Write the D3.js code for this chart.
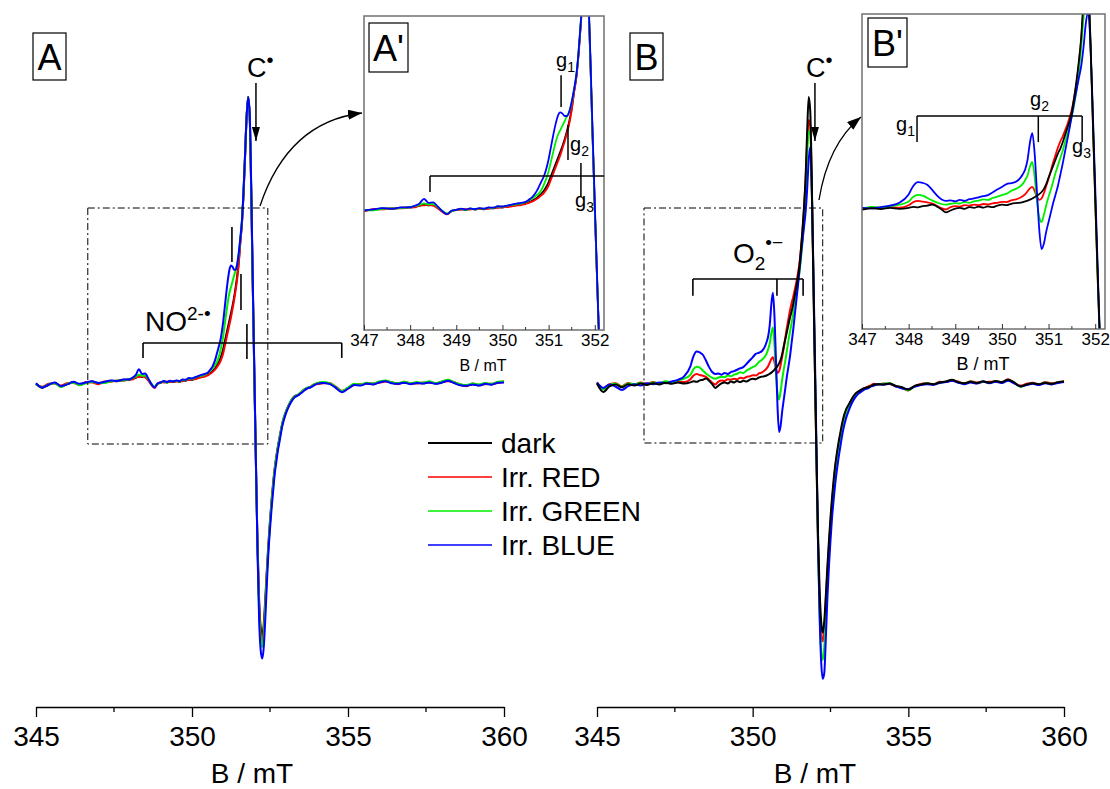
<!DOCTYPE html>
<html><head><meta charset="utf-8">
<script src="https://cdn.jsdelivr.net/npm/d3@7"></script>
<style>
body{margin:0;background:#fff}
svg{display:block;font-family:"Liberation Sans",Arial,Helvetica,sans-serif}
</style></head><body>
<svg id="chart" width="1110" height="789"></svg>
<script>
// ---------- sampling grid (magnetic field, mT) ----------
const fieldB = [
 345.0,345.2,345.4,345.6,345.8,346.0,346.2,346.4,346.6,346.8,347.0,347.2,347.4,347.6,347.8,
 348.0,348.1,348.2,348.3,348.4,348.5,348.6,348.7,348.8,348.9,349.0,349.1,349.2,349.3,349.4,349.5,349.6,349.7,349.8,349.9,350.0,350.1,350.2,350.3,350.4,
 350.45,350.5,350.55,350.6,350.65,350.7,350.75,350.8,350.85,350.9,350.95,351.0,351.05,351.1,351.15,351.2,351.25,351.3,351.35,351.4,351.45,351.5,351.55,351.6,351.65,351.7,351.75,351.8,351.85,351.9,351.95,352.0,352.05,352.1,352.15,352.2,352.25,352.3,352.35,352.4,352.45,352.5,352.55,352.6,352.65,352.7,352.75,352.8,
 352.9,353.0,353.1,353.2,353.3,353.4,353.5,353.6,353.7,353.8,353.9,354.0,
 354.2,354.4,354.6,354.8,355.0,355.2,355.4,355.6,355.8,356.0,356.2,356.4,356.6,356.8,357.0,357.2,357.4,357.6,357.8,358.0,358.2,358.4,358.6,358.8,359.0,359.2,359.4,359.6,359.8,360.0
];

// ---------- panel A spectra (a.u.) ----------
const aDark = [
 0.5,-1.0,0.0,0.8,-0.5,0.3,1.0,0.2,0.8,1.2,0.6,1.0,1.5,1.3,1.8,
 1.8,2.2,2.5,3.2,2.8, 3.0,1.8,0.2,-0.8,0.5, 0.8,1.2,0.9,1.3,1.0, 1.4,1.1,1.6,1.5,2.0, 1.8,2.3,2.6,2.9,3.1,
 3.4,3.6,4.0,4.3,4.8, 5.3,6.0,6.8,7.8,9.0, 10.5,12.5,15.0,17.5,20.0, 22.5,25.0,27.5,30.5,34.0,
 38.0,43.0,50.0,56.0,66.0, 79.0,93.0,100,93.0,66.0, 33.0,2.0,-28,-55,-74, -84,-87,-83,-74,-64,
 -55,-47,-40,-34,-29, -25,-21.5,-18.5,
 -13,-9.5,-7.0,-5.0,-3.8,-3.5,-2.5,-1.5,-1.0,-0.8,0.0,0.5,
 0.8,0.5,-0.8,-2.2,-1.0,0.2,0.0,0.6,0.3,1.0, 1.4,0.8,0.5,0.9,0.4,0.8,0.6,1.0,0.5,0.9, 1.6,0.8,0.0,-0.2,0.3,-0.1,0.5,0.2,0.9,1.0
];
const aRed = [
 0.2,-0.6,0.4,0.5,-0.2,0.6,0.7,0.0,1.0,0.9,0.3,1.2,1.1,1.6,1.5,
 2.0,1.9,2.7,2.8,3.0, 2.6,1.5,0.0,-1.0,0.3, 1.0,0.9,1.2,1.0,1.3, 1.2,1.4,1.3,1.8,1.7, 2.1,2.0,2.4,2.7,2.9,
 3.1,3.3,3.7,4.0,4.4, 4.9,5.5,6.2,7.0,8.0, 9.3,11.0,13.5,16.0,18.5, 21.0,23.5,26.5,29.5,33.0,
 37.0,42.5,49.5,56.0,66.0, 79.0,93.0,100,93.0,66.0, 33.0,2.0,-28,-56,-76, -86,-89,-85,-76,-65,
 -56,-48,-41,-35,-29.5, -25.5,-22,-19,
 -13.5,-9.8,-7.2,-5.2,-4.0,-3.3,-2.6,-1.8,-1.2,-0.6,0.2,0.3,
 0.6,0.7,-0.5,-2.0,-1.2,0.0,0.3,0.4,0.6,0.8, 1.2,1.0,0.3,1.1,0.6,0.5,0.9,0.8,0.7,1.1, 1.3,1.0,0.2,-0.4,0.5,0.1,0.3,0.4,0.7,1.2
];
const aGreen = [
 0.3,-0.8,0.2,0.6,-0.7,0.4,0.8,-0.1,0.6,1.0,0.8,0.7,1.3,1.5,1.6,
 2.1,2.4,3.0,3.6,3.2, 3.3,2.0,0.4,-0.6,0.4, 0.9,1.3,0.8,1.5,1.2, 1.5,1.3,1.8,1.7,2.3, 2.2,2.6,3.0,3.2,3.5,
 3.8,4.1,4.6,5.1,5.7, 6.4,7.2,8.0,9.5,11.5, 14.0,17.0,21.0,25.0,29.0, 32.0,34.0,36.0,38.0,40.0,
 42.0,45.5,51.0,57.0,67.0, 80.0,93.0,100,93.0,66.0, 33.0,2.0,-28,-57,-78, -88,-91,-87,-77,-66,
 -56,-48,-41,-35,-29.5, -25.5,-22,-19,
 -13.2,-9.6,-7.2,-5.0,-3.9,-3.4,-2.4,-1.6,-0.9,-0.7,0.1,0.6,
 1.0,0.6,-0.6,-2.1,-0.9,0.4,0.2,0.8,0.5,1.2, 1.6,1.0,0.7,1.1,0.6,1.0,0.8,1.3,0.7,1.2, 1.8,1.0,0.3,0.0,0.5,0.2,0.7,0.4,1.1,1.3
];
const aBlue = [
 0.6,-0.9,0.1,0.9,-0.4,0.2,1.1,0.4,0.9,1.3,0.7,1.1,1.6,1.4,1.9,
 2.0,2.6,3.5,5.5,3.8, 4.0,2.2,0.3,-0.9,0.6, 0.9,1.4,1.0,1.5,1.2, 1.6,1.4,1.9,1.8,2.4, 2.3,2.7,3.1,3.5,3.8,
 4.0,4.2,4.8,5.5,6.3, 7.5,9.0,11.0,13.0,15.0, 18.0,22.0,27.0,32.0,36.5, 40.0,41.5,41.0,40.0,40.0,
 42.0,46.0,51.0,57.0,67.0, 80.0,93.0,100,94.0,68.0, 35.0,4.0,-27,-58,-81, -92,-95,-91,-81,-69,
 -58,-50,-43,-37,-31, -27,-23,-20,
 -14,-10.2,-7.5,-5.5,-4.2,-3.6,-2.8,-1.9,-1.2,-0.8,-0.2,0.4,
 0.7,0.4,-0.9,-2.5,-1.3,0.0,-0.2,0.5,0.2,0.9, 1.3,0.6,0.4,0.8,0.3,0.7,0.5,0.9,0.4,0.8, 1.5,0.7,-0.1,-0.3,0.2,-0.2,0.4,0.1,0.8,0.9
];

// ---------- panel B spectra (a.u.) ----------
const bDark = [
 0.5,-2.4,-0.5,0.2,-0.8,0.3,-0.2,0.5,0.0,0.6,0.2,0.8,0.4,0.9,0.5,
 0.9,1.3,1.1,1.6,1.8, 2.3,1.5,0.3,-1.0,-0.2, 0.6,0.9,0.5,1.2,0.9, 1.4,1.0,1.5,1.2,1.8, 2.2,2.0,2.6,2.9,3.1,
 3.3,3.6,3.9,4.3,4.8, 5.3,5.9,6.6,7.5,8.8, 10.8,13.5,16.0,18.5,21.0, 23.5,25.5,28.0,31.0,34.0,
 37.0,41.0,47.0,54.0,62.0, 72.0,88.0,100,95.0,70.0, 37.0,5.0,-25,-52,-71, -82,-86,-82,-73,-63,
 -54,-46,-39,-33,-28, -24,-20.5,-17.5,
 -12,-8.5,-6.5,-4.5,-3.0,-2.2,-1.5,-1.0,-0.8,-0.4,0.2,0.3,
 0.2,0.5,-0.3,-0.8,-1.6,-0.3,0.2,0.5,0.3,0.9, 1.2,1.8,1.0,0.6,1.1,0.7,1.3,0.8,1.4,1.0, 1.8,0.9,-0.5,0.2,0.6,0.3,0.8,0.4,1.0,1.2
];
const bRed = [
 0.9,-1.2,0.3,0.6,-0.4,0.7,0.1,0.9,0.4,1.0,0.5,1.1,0.7,1.2,1.0,
 2.0,3.3,3.8,3.5,3.2, 2.8,1.8,0.8,0.2,1.2, 1.6,1.4,2.0,1.8,2.2, 2.0,2.5,2.3,2.8,3.0, 3.4,3.3,4.0,4.4,5.2,
 5.8,6.6,7.8,9.0,9.6, 8.0,5.5,4.2,4.8,7.0, 10.0,13.0,16.5,20.0,23.0, 26.0,28.5,30.5,33.0,35.5,
 38.5,42.0,47.0,53.0,61.0, 71.0,84.0,92.0,90.0,68.0, 36.0,4.0,-27,-55,-75, -86,-89,-85,-75,-65,
 -56,-47.5,-40.5,-34.5,-29, -25,-21.5,-18.5,
 -12.8,-9.2,-6.8,-4.9,-3.4,-2.4,-1.8,-1.2,-0.6,-0.1,0.4,0.1,
 0.5,0.3,-0.5,-1.0,-1.9,-0.4,0.4,0.7,0.1,1.1, 1.0,1.6,1.2,0.4,1.3,0.9,1.0,1.1,1.2,0.8, 2.0,0.7,-0.2,0.4,0.8,0.1,1.0,0.6,0.8,1.3
];
const bGreen = [
 0.7,-1.5,0.0,0.4,-0.6,0.5,0.3,0.7,0.2,0.9,0.6,1.3,1.0,1.6,2.2,
 3.5,5.5,6.3,6.0,5.0, 4.0,3.2,2.5,2.2,2.6, 2.9,2.7,3.3,3.0,3.6, 3.9,4.4,4.2,5.0,5.6, 6.2,6.8,8.0,8.8,10.0,
 11.0,12.5,14.5,18.0,20.0, 14.0,4.0,-3.0,-5.0,-2.0, 2.0,5.5,8.5,12.0,15.5, 18.5,21.5,24.5,28.0,31.5,
 35.0,39.0,44.0,50.0,58.0, 68.0,80.0,88.0,88.0,68.0, 38.0,6.0,-26,-56,-79, -92,-95.5,-91,-80,-68,
 -58,-49,-42,-35.5,-30, -25.5,-22,-19,
 -13.2,-9.4,-7.0,-5.0,-3.6,-2.6,-1.9,-1.3,-1.0,-0.5,0.0,0.2,
 0.4,0.6,-0.4,-0.9,-1.8,-0.5,0.1,0.6,0.2,0.8, 1.1,1.7,0.9,0.5,1.2,0.6,1.1,0.7,1.3,0.9, 1.7,0.8,-0.6,0.1,0.5,0.2,0.9,0.3,0.9,1.1
];
const bBlue = [
 0.8,-1.0,0.2,-0.6,-1.7,-0.4,0.3,-0.2,0.6,0.3,0.9,0.6,1.2,1.8,3.0,
 6.5,10.0,11.6,11.3,10.5, 8.5,6.2,4.5,3.8,4.0, 3.6,4.2,3.8,4.5,4.8, 5.3,5.8,6.2,7.3,8.5, 9.6,10.8,11.2,11.8,13.5,
 15.0,17.0,21.0,28.0,32.0, 24.0,8.0,-8.0,-16.3,-14.0, -9.0,-5.0,-1.0,3.0,6.5, 10.0,14.5,19.0,24.0,29.0,
 34.0,39.5,45.0,50.0,55.0, 60.0,68.0,78.0,82.6,68.0, 40.0,10.0,-22,-55,-80, -96,-102,-100,-88,-74,
 -63,-54,-46,-40,-34.5, -30,-26,-22.5,
 -16,-11.5,-8.5,-6.0,-4.2,-3.0,-2.2,-1.5,-1.2,-0.5,-0.2,0.3,
 0.1,0.4,-0.5,-1.2,-1.4,-0.6,0.0,0.3,0.1,0.7, 1.0,1.5,0.8,0.3,0.9,0.5,1.2,0.6,1.1,0.7, 1.5,0.6,-0.4,0.0,0.4,0.0,0.6,0.2,0.7,1.0
];

const seriesNames  = ["dark","Irr. RED","Irr. GREEN","Irr. BLUE"];
const seriesColors = ["#000000","#ff0000","#00ee00","#0000ff"];
const mainTicks  = [345,350,355,360];
const mainMinor  = [347.5,352.5,357.5];
const insetTicks = [347,348,349,350,351,352];
const insetMinor = [347.5,348.5,349.5,350.5,351.5];
const axisTitle = "B / mT";

// ---------- setup ----------
const svg = d3.select("#chart");
const FONT = '"Liberation Sans",Arial,sans-serif';

const xA = d3.scaleLinear().domain([345,360]).range([36,504]);
const xB = d3.scaleLinear().domain([345,360]).range([597,1064]);
const yMain = d3.scaleLinear().domain([0,100]).range([385,97]);
const xAi = d3.scaleLinear().domain([347,352.2]).range([364,604]);
const xBi = d3.scaleLinear().domain([347,352.21]).range([862,1105]);
const yAi = d3.scaleLinear().domain([0,100]).range([212,-28]);
const yBi = d3.scaleLinear().domain([0,100]).range([210,-30]);

const defs = svg.append("defs");
defs.append("marker").attr("id","ah").attr("viewBox","0 0 14 10").attr("refX",14).attr("refY",5)
  .attr("markerWidth",14).attr("markerHeight",10).attr("markerUnits","userSpaceOnUse").attr("orient","auto")
  .append("path").attr("d","M0,0 L14,5 L0,10 Z").attr("fill","#000");
defs.append("marker").attr("id","ahs").attr("viewBox","0 0 8 14").attr("refX",4).attr("refY",14)
  .attr("markerWidth",8).attr("markerHeight",14).attr("markerUnits","userSpaceOnUse").attr("orient","0")
  .append("path").attr("d","M0,0 L8,0 L4,14 Z").attr("fill","#000");

function drawSeries(g, xs, ys, arr, order, width){
  order.forEach(k=>{
    const vals = arr[k];
    const pts = fieldB.map((b,i)=>[b, vals[i]]).filter(p=>p[1]!==undefined);
    const line = d3.line().x(p=>xs(p[0])).y(p=>ys(p[1])).curve(d3.curveMonotoneX);
    g.append("path").attr("d",line(pts)).attr("fill","none")
      .attr("stroke",seriesColors[k]).attr("stroke-width",width).attr("stroke-linejoin","round");
  });
}

const panelA = [aDark,aRed,aGreen,aBlue];
const panelB = [bDark,bRed,bGreen,bBlue];

// main spectra
drawSeries(svg.append("g"), xA, yMain, panelA, [0,1,2,3], 2);
drawSeries(svg.append("g"), xB, yMain, panelB, [1,2,3,0], 2);

// main axes
function mainAxis(xs, titleX){
  const g = svg.append("g").attr("transform","translate(0,707)");
  g.call(d3.axisBottom(xs).tickValues(mainTicks).tickSize(10).tickSizeOuter(0).tickPadding(9).tickFormat(d3.format("d")));
  g.select(".domain").attr("stroke","#000").attr("stroke-width",1.3);
  g.selectAll(".tick line").attr("stroke","#000").attr("stroke-width",1.3);
  g.selectAll(".tick text").attr("font-size",28).attr("font-family",FONT).attr("fill","#000");
  g.selectAll("line.minor").data(mainMinor).join("line").attr("class","minor")
    .attr("x1",d=>xs(d)).attr("x2",d=>xs(d)).attr("y1",0).attr("y2",5).attr("stroke","#000").attr("stroke-width",1.3);
  svg.append("text").attr("x",titleX).attr("y",783).attr("text-anchor","middle")
    .attr("font-size",28).attr("font-family",FONT).text(axisTitle);
}
mainAxis(xA, 252);
mainAxis(xB, 815);

// insets
function inset(xs, ys, arr, order, box, clipId, labelSize, titleX){
  defs.append("clipPath").attr("id",clipId).append("rect")
    .attr("x",box.x0).attr("y",box.y0).attr("width",box.x1-box.x0).attr("height",box.y1-box.y0);
  const g = svg.append("g").attr("clip-path",`url(#${clipId})`);
  drawSeries(g, xs, ys, arr, order, 1.8);
  svg.append("rect").attr("x",box.x0).attr("y",box.y0).attr("width",box.x1-box.x0).attr("height",box.y1-box.y0)
    .attr("fill","none").attr("stroke","#707070").attr("stroke-width",1.5);
  const ax = svg.append("g").attr("transform",`translate(0,${box.y1})`);
  ax.call(d3.axisBottom(xs).tickValues(insetTicks).tickSize(-5).tickSizeOuter(0).tickPadding(4).tickFormat(d3.format("d")));
  ax.select(".domain").remove();
  ax.selectAll(".tick line").attr("stroke","#333");
  ax.selectAll(".tick text").attr("font-size",17).attr("font-family",FONT).attr("fill","#000");
  ax.selectAll("line.minor").data(insetMinor).join("line").attr("class","minor")
    .attr("x1",d=>xs(d)).attr("x2",d=>xs(d)).attr("y1",0).attr("y2",-3).attr("stroke","#333");
  svg.append("text").attr("x",titleX).attr("y",box.y1+41).attr("text-anchor","middle")
    .attr("font-size",labelSize).attr("font-family",FONT).text(axisTitle);
}
inset(xAi, yAi, panelA, [0,1,2,3], {x0:364,y0:16,x1:604,y1:330}, "clipA", 16, 483);
inset(xBi, yBi, panelB, [1,2,3,0], {x0:862,y0:14,x1:1105,y1:329}, "clipB", 18, 983);

// panel letters
function letterBox(x,y,w,h,label){
  svg.append("rect").attr("x",x).attr("y",y).attr("width",w).attr("height",h)
    .attr("fill","#fff").attr("stroke","#000").attr("stroke-width",1.2);
  svg.append("text").attr("x",x+w/2).attr("y",y+h/2+13).attr("text-anchor","middle")
    .attr("font-size",36).attr("font-family",FONT).text(label);
}
letterBox(33,33,33,47,"A");
letterBox(630,33,33,47,"B");
letterBox(369,23,39,49,"A'");
letterBox(868,18,39,49,"B'");

// C• labels with arrows
function cLabel(xs, bx){
  const t = svg.append("text").attr("x",xs(bx)-9).attr("y",77).attr("font-size",27).attr("font-family",FONT);
  t.append("tspan").text("C");
  t.append("tspan").attr("dy",-10).attr("font-size",20).text("•");
  svg.append("line").attr("x1",xs(bx)).attr("x2",xs(bx)).attr("y1",83).attr("y2",141)
    .attr("stroke","#000").attr("stroke-width",1.5).attr("marker-end","url(#ahs)");
}
cLabel(xA, 352.05);
cLabel(xB, 352.0);

// dash-dot zoom boxes
function dashBox(xs, b0, b1, y0, y1){
  svg.append("rect").attr("x",xs(b0)).attr("y",y0).attr("width",xs(b1)-xs(b0)).attr("height",y1-y0)
    .attr("fill","none").attr("stroke","#000").attr("stroke-width",1).attr("stroke-dasharray","7,3,2,3");
}
dashBox(xA, 346.66, 352.43, 208, 444);
dashBox(xB, 346.51, 352.25, 208, 443);

// curved arrows
svg.append("path").attr("d","M260,206 Q288,122 362,113").attr("fill","none").attr("stroke","#000")
  .attr("stroke-width",1.3).attr("marker-end","url(#ah)");
svg.append("path").attr("d","M819,200 Q828,144 861,117").attr("fill","none").attr("stroke","#000")
  .attr("stroke-width",1.3).attr("marker-end","url(#ah)");

// generic line helper
function seg(x1,y1,x2,y2,w){
  svg.append("line").attr("x1",x1).attr("y1",y1).attr("x2",x2).attr("y2",y2)
    .attr("stroke","#000").attr("stroke-width",w||1.6);
}

// NO2-• bracket (panel A)
const noBracket = [348.43, 351.76, 354.8];
seg(xA(noBracket[0]), yMain(14.6), xA(noBracket[2]), yMain(14.6));
seg(xA(noBracket[0]), yMain(14.6), xA(noBracket[0]), yMain(9.4));
seg(xA(noBracket[2]), yMain(14.6), xA(noBracket[2]), yMain(9.4));
seg(xA(noBracket[1]), yMain(21.2), xA(noBracket[1]), yMain(9.0));
seg(xA(351.28), yMain(54.9), xA(351.28), yMain(42.7));
seg(xA(351.57), yMain(38.5), xA(351.57), yMain(26.0));
{
  const t = svg.append("text").attr("x",145).attr("y",331).attr("font-size",28).attr("font-family",FONT);
  t.append("tspan").text("NO");
  t.append("tspan").attr("dy",-11).attr("font-size",19).text("2-•");
}

// O2•− bracket (panel B)
const o2Bracket = [348.08, 350.78, 351.62];
seg(xB(o2Bracket[0]), yMain(36.8), xB(o2Bracket[2]), yMain(36.8));
o2Bracket.forEach(b=>seg(xB(b), yMain(36.8), xB(b), yMain(31.0)));
{
  const t = svg.append("text").attr("x",733).attr("y",263).attr("font-size",28).attr("font-family",FONT);
  t.append("tspan").text("O");
  t.append("tspan").attr("dy",7).attr("font-size",19).text("2");
  t.append("tspan").attr("dy",-21).attr("font-size",19).text("•−");
}

// g labels
function gLabel(x,y,sub,size){
  const t = svg.append("text").attr("x",x).attr("y",y).attr("font-size",size).attr("font-family",FONT);
  t.append("tspan").text("g");
  t.append("tspan").attr("dy",5).attr("font-size",size*0.7).text(sub);
}
// A' bracket
seg(xAi(348.43), yAi(15), xAi(352.2), yAi(15), 1.5);
seg(xAi(348.43), yAi(15), xAi(348.43), yAi(8.3), 1.5);
seg(xAi(351.27), yAi(57), xAi(351.27), yAi(43.7), 1.5);
seg(xAi(351.42), yAi(36.2), xAi(351.42), yAi(21.7), 1.5);
seg(xAi(351.7), yAi(20.4), xAi(351.7), yAi(6.2), 1.5);
gLabel(556,67,"1",20);
gLabel(570,151,"2",20);
gLabel(575,207,"3",20);
// B' bracket
const bpBracket = [348.18, 350.78, 351.72];
seg(xBi(bpBracket[0]), yBi(39.2), xBi(bpBracket[2]), yBi(39.2), 1.5);
bpBracket.forEach(b=>seg(xBi(b), yBi(39.2), xBi(b), yBi(28.3), 1.5));
gLabel(896,131,"1",20);
gLabel(1030,106,"2",20);
gLabel(1072,153,"3",20);

// legend
const lg = svg.append("g");
seriesNames.forEach((n,i)=>{
  const y = 443 + i*34;
  lg.append("line").attr("x1",428).attr("x2",492).attr("y1",y).attr("y2",y)
    .attr("stroke",seriesColors[i]).attr("stroke-width", i===0?2:1.3);
  lg.append("text").attr("x",501).attr("y",y+10).attr("font-size",28).attr("font-family",FONT).text(n);
});

// length check
[["aDark",aDark],["aRed",aRed],["aGreen",aGreen],["aBlue",aBlue],["bDark",bDark],["bRed",bRed],["bGreen",bGreen],["bBlue",bBlue]]
 .forEach(([n,a],i)=>{ if(a.length!==fieldB.length){ svg.append("text").attr("x",5).attr("y",15+i*14).attr("font-size",12).attr("fill","magenta").text(n+" "+a.length+"/"+fieldB.length);} });
</script>
</body></html>
